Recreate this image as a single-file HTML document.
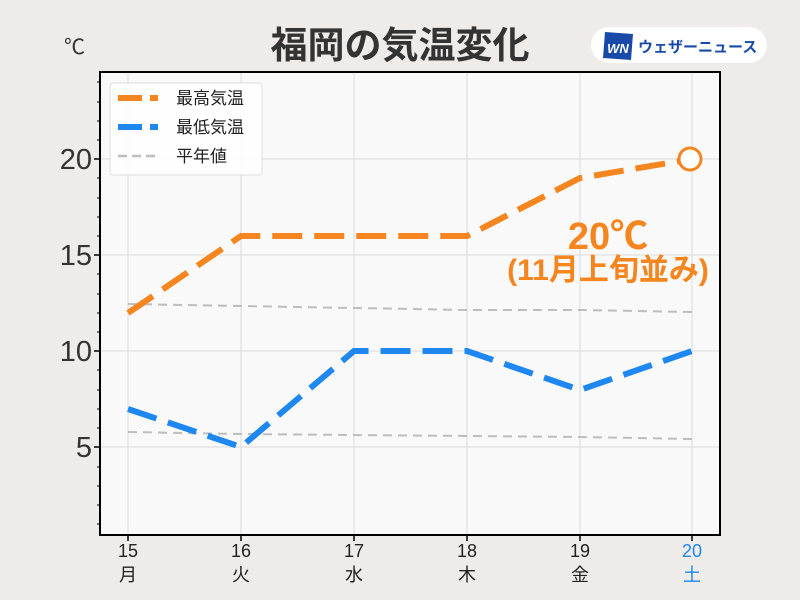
<!DOCTYPE html>
<html><head><meta charset="utf-8"><style>
body{margin:0;background:#eeebe9;}
svg{display:block;font-family:"Liberation Sans","Noto Sans CJK JP",sans-serif;}
</style></head><body>
<svg width="800" height="600" viewBox="0 0 800 600">
<rect width="800" height="600" fill="#eeebe9"/>
<rect x="100" y="72" width="620" height="463" fill="#faf9f9"/>
<g stroke="#dcdcdc" stroke-width="1">
<line x1="128" y1="72" x2="128" y2="535"/><line x1="241" y1="72" x2="241" y2="535"/>
<line x1="354" y1="72" x2="354" y2="535"/><line x1="467" y1="72" x2="467" y2="535"/>
<line x1="580" y1="72" x2="580" y2="535"/><line x1="692" y1="72" x2="692" y2="535"/>
<line x1="100" y1="159" x2="720" y2="159"/><line x1="100" y1="255" x2="720" y2="255"/>
<line x1="100" y1="351" x2="720" y2="351"/><line x1="100" y1="447" x2="720" y2="447"/>
</g>
<g stroke="#bdbdbd" stroke-width="2" stroke-dasharray="9,6" fill="none">
<polyline points="128,304 241,306 354,308 467,310 580,310 692,312"/>
<polyline points="128,432 241,434 354,435 467,436 580,437 692,439"/>
</g>
<polyline points="128,313 241,236 354,236 467,236 580,178 692,159" fill="none" stroke="#f5851f" stroke-width="6" stroke-dasharray="30,12"/>
<polyline points="128,409 241,447 354,351 467,351 580,390 692,351" fill="none" stroke="#1e87f0" stroke-width="6" stroke-dasharray="30,12"/>
<circle cx="690" cy="159" r="11" fill="#fff" stroke="#f5851f" stroke-width="3"/>
<rect x="100" y="72" width="620" height="463" fill="none" stroke="#000" stroke-width="2"/>
<g stroke="#000" stroke-width="1.5">
<line x1="94" y1="159" x2="100" y2="159"/><line x1="94" y1="255" x2="100" y2="255"/>
<line x1="94" y1="351" x2="100" y2="351"/><line x1="94" y1="447" x2="100" y2="447"/>
<line x1="128" y1="535" x2="128" y2="541"/><line x1="241" y1="535" x2="241" y2="541"/>
<line x1="354" y1="535" x2="354" y2="541"/><line x1="467" y1="535" x2="467" y2="541"/>
<line x1="580" y1="535" x2="580" y2="541"/><line x1="692" y1="535" x2="692" y2="541"/>
</g>
<g stroke="#000" stroke-width="1">
<line x1="97" y1="524" x2="100" y2="524"/><line x1="97" y1="505" x2="100" y2="505"/><line x1="97" y1="486" x2="100" y2="486"/><line x1="97" y1="467" x2="100" y2="467"/>
<line x1="97" y1="428" x2="100" y2="428"/><line x1="97" y1="409" x2="100" y2="409"/><line x1="97" y1="390" x2="100" y2="390"/><line x1="97" y1="370" x2="100" y2="370"/>
<line x1="97" y1="332" x2="100" y2="332"/><line x1="97" y1="313" x2="100" y2="313"/><line x1="97" y1="294" x2="100" y2="294"/><line x1="97" y1="274" x2="100" y2="274"/>
<line x1="97" y1="236" x2="100" y2="236"/><line x1="97" y1="217" x2="100" y2="217"/><line x1="97" y1="198" x2="100" y2="198"/><line x1="97" y1="178" x2="100" y2="178"/>
<line x1="97" y1="140" x2="100" y2="140"/><line x1="97" y1="121" x2="100" y2="121"/><line x1="97" y1="102" x2="100" y2="102"/><line x1="97" y1="82" x2="100" y2="82"/>
</g>
<g font-size="29" fill="#333" text-anchor="end">
<text x="92" y="169">20</text><text x="92" y="265">15</text><text x="92" y="361">10</text><text x="92" y="457">5</text>
</g>
<text x="64" y="54" font-size="21" fill="#333">℃</text>
<g font-size="18" fill="#222" text-anchor="middle">
<text x="128" y="557">15</text><text x="241" y="557">16</text><text x="354" y="557">17</text><text x="467" y="557">18</text><text x="580" y="557">19</text><text x="692" y="557" fill="#1e87f0">20</text>
<text x="128" y="581">月</text><text x="241" y="581">火</text><text x="354" y="581">水</text><text x="467" y="581">木</text><text x="580" y="581">金</text><text x="692" y="581" fill="#1e87f0">土</text>
</g>
<text x="400" y="58" font-size="37" font-weight="bold" fill="#333" text-anchor="middle">福岡の気温変化</text>
<rect x="110" y="83" width="152" height="92" rx="3" fill="#fff" fill-opacity="0.85" stroke="#ddd"/>
<line x1="118" y1="98" x2="158" y2="98" stroke="#f5851f" stroke-width="6" stroke-dasharray="24,8"/>
<line x1="118" y1="127" x2="158" y2="127" stroke="#1e87f0" stroke-width="6" stroke-dasharray="24,8"/>
<line x1="118" y1="156" x2="158" y2="156" stroke="#bdbdbd" stroke-width="2.5" stroke-dasharray="9,5"/>
<g font-size="17" fill="#222">
<text x="176" y="104">最高気温</text><text x="176" y="133">最低気温</text><text x="176" y="162">平年値</text>
</g>
<text x="608" y="249" font-size="38" font-weight="bold" fill="#f5851f" text-anchor="middle">20℃</text>
<text x="608" y="280" font-size="30" font-weight="bold" fill="#f5851f" text-anchor="middle">(11月上旬並み)</text>
<rect x="591" y="27" width="176" height="36" rx="18" fill="#fff"/>
<polygon points="605,32 633,34 631,60 603,58" fill="#1a4aa8"/>
<text x="618" y="53" font-size="13" font-weight="bold" font-style="italic" fill="#fff" text-anchor="middle">WN</text>
<text x="638" y="52" font-size="15" font-weight="bold" fill="#1a4aa8">ウェザーニュース</text>
</svg>
</body></html>
